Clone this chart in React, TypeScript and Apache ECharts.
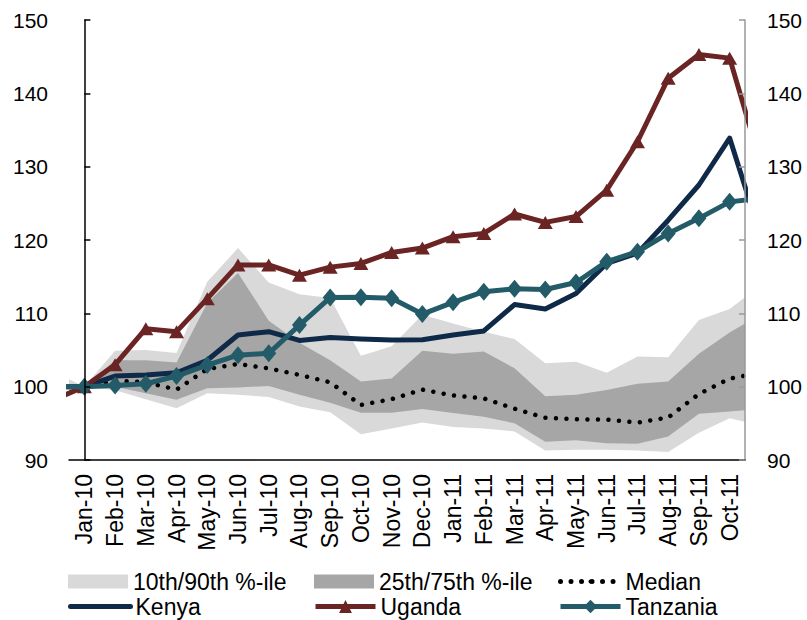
import React, { useEffect, useRef } from "react";
import * as echarts from "echarts";

// Visible month labels (category axis)
const monthLabels = [
  "Jan-10", "Feb-10", "Mar-10", "Apr-10", "May-10", "Jun-10", "Jul-10", "Aug-10",
  "Sep-10", "Oct-10", "Nov-10", "Dec-10", "Jan-11", "Feb-11", "Mar-11", "Apr-11",
  "May-11", "Jun-11", "Jul-11", "Aug-11", "Sep-11", "Oct-11",
];
// Data periods: one month before and after the visible range (clipped by the axis)
const periods = ["Dec-09", ...monthLabels, "Nov-11"];

const kenya = [100, 100, 101.45, 101.6, 101.9, 103.6, 107.05, 107.5, 106.3, 106.7, 106.5, 106.35, 106.4, 107.05, 107.6, 111.2, 110.6, 112.7, 116.8, 118.2, 122.7, 127.5, 133.9, 120.7];
const uganda = [98.2, 100, 103.0, 107.9, 107.5, 112.0, 116.6, 116.6, 115.2, 116.3, 116.8, 118.3, 118.9, 120.45, 120.9, 123.55, 122.4, 123.2, 126.8, 133.4, 142.05, 145.3, 144.8, 130.6];
const tanzania = [100, 100, 100.15, 100.4, 101.45, 102.95, 104.3, 104.55, 108.4, 112.15, 112.2, 112.05, 109.9, 111.5, 112.95, 113.35, 113.25, 114.2, 117.05, 118.4, 120.9, 122.95, 125.2, 125.7];
const median = [100, 100, 100.8, 100.6, 99.6, 102.4, 103.1, 102.5, 101.6, 100.6, 97.5, 98.3, 99.6, 98.8, 98.4, 97.0, 95.75, 95.55, 95.5, 95.1, 95.8, 99.0, 101.1, 101.9];
const p90 = [102, 100, 104.9, 105.0, 104.6, 114.3, 118.9, 114.2, 112.6, 112.1, 104.2, 105.5, 109.8, 108.6, 107.5, 106.5, 103.2, 103.4, 101.9, 104.1, 104.0, 109.1, 110.6, 113.8];
const p75 = [100.8, 100, 103.6, 103.6, 103.3, 111.4, 115.5, 109.0, 106.0, 103.6, 100.7, 101.1, 104.9, 104.5, 104.8, 102.5, 98.7, 98.9, 99.55, 100.4, 100.7, 104.5, 107.4, 109.8];
const p25 = [99.3, 100, 100.0, 99.1, 98.2, 99.8, 99.9, 100.1, 98.9, 97.8, 96.45, 96.45, 96.95, 96.4, 95.9, 95.0, 92.5, 92.7, 92.3, 92.2, 93.2, 96.3, 96.6, 97.0];
const p10 = [98.2, 100, 99.5, 98.3, 97.05, 99.1, 98.9, 98.6, 97.3, 96.5, 93.5, 94.3, 95.1, 94.5, 94.3, 93.9, 91.3, 91.4, 91.4, 91.3, 91.1, 93.7, 95.7, 94.7];

const yTicks = { min: 90, max: 150, interval: 10 };

const FONT = "'Liberation Sans', Arial, sans-serif";
const C_LIGHT = "#d9d9d9";
const C_DARK = "#a6a6a6";
const C_KENYA = "#0f2948";
const C_UGANDA = "#6b2424";
const C_TANZ = "#235b68";

const pos = (i: number) => i - 1; // index of period relative to Jan-10
const pairs = (arr: number[]) => arr.map((v, i) => [pos(i), v]);

function bandSeries(name: string, lo: number[], hi: number[], color: string) {
  return {
    name,
    type: "custom",
    xAxisIndex: 1,
    yAxisIndex: 0,
    clip: true,
    silent: true,
    color,
    itemStyle: { color },
    data: periods.map((_, i) => [pos(i), lo[i], hi[i]]),
    encode: { x: 0, y: [1, 2] },
    renderItem: (params: any, api: any) => {
      if (params.dataIndex !== 0) return null;
      const top = hi.map((v, i) => api.coord([pos(i), v]));
      const bottom = lo.map((v, i) => api.coord([pos(i), v])).reverse();
      return {
        type: "polygon",
        shape: { points: [...top, ...bottom] },
        style: { fill: color, stroke: null },
      };
    },
  };
}

export default function App() {
  const ref = useRef<HTMLDivElement>(null);
  useEffect(() => {
    if (!ref.current) return;
    const chart = echarts.init(ref.current, null, { renderer: "svg" });
    const legendBase = {
      orient: "horizontal",
      padding: 0,
      itemWidth: 60,
      itemHeight: 14,
      selectedMode: false,
      lineStyle: { width: 5 },
      textStyle: { fontSize: 23, color: "#000", fontFamily: FONT },
    };
    const option: any = {
      animation: false,
      textStyle: { fontFamily: FONT },
      grid: { left: 69, right: 62, top: 20, height: 440, containLabel: false },
      xAxis: [
        {
          type: "category",
          data: monthLabels,
          boundaryGap: true,
          z: 5,
          axisLine: { lineStyle: { color: "#000", width: 1.5 } },
          axisTick: { inside: true, length: 6, lineStyle: { color: "#000", width: 1.5 } },
          axisLabel: { rotate: 90, interval: 0, fontSize: 23, color: "#000", margin: 14, fontFamily: FONT },
          splitLine: { show: false },
        },
        { type: "value", min: -0.5, max: 21.5, show: false },
      ],
      yAxis: [
        {
          type: "value",
          position: "left",
          ...yTicks,
          z: 5,
          axisLine: { show: true, lineStyle: { color: "#000", width: 1.5 } },
          axisTick: { show: true, inside: true, length: 6, lineStyle: { color: "#000", width: 1.5 } },
          axisLabel: { fontSize: 21, color: "#000", margin: 21, fontFamily: FONT },
          splitLine: { show: false },
        },
        {
          type: "value",
          position: "right",
          ...yTicks,
          z: 5,
          axisLine: { show: true, lineStyle: { color: "#999", width: 1.5 } },
          axisTick: { show: true, inside: true, length: 6, lineStyle: { color: "#999", width: 1.5 } },
          axisLabel: { fontSize: 21, color: "#000", margin: 22, fontFamily: FONT },
          splitLine: { show: false },
        },
      ],
      legend: [
        { ...legendBase, left: 68, top: 570, data: [{ name: "10th/90th %-ile", icon: "rect" }] },
        { ...legendBase, left: 314, top: 570, data: [{ name: "25th/75th %-ile", icon: "rect" }] },
        { ...legendBase, left: 558, top: 570, itemHeight: 5, data: ["Median"] },
        { ...legendBase, left: 68, top: 595, itemHeight: 5, data: ["Kenya"] },
        { ...legendBase, left: 313, top: 595, itemHeight: 16, data: ["Uganda"] },
        { ...legendBase, left: 558, top: 595, itemHeight: 17, data: ["Tanzania"] },
      ],
      series: [
        bandSeries("10th/90th %-ile", p10, p90, C_LIGHT),
        bandSeries("25th/75th %-ile", p25, p75, C_DARK),
        {
          name: "Median", type: "line", xAxisIndex: 1, data: pairs(median), symbol: "none", color: "#000",
          lineStyle: { color: "#000", width: 4.5, type: [0.01, 10.5], cap: "round" },
        },
        {
          name: "Kenya", type: "line", xAxisIndex: 1, data: pairs(kenya), symbol: "none", color: C_KENYA,
          lineStyle: { color: C_KENYA, width: 5, join: "round", cap: "round" },
        },
        {
          name: "Uganda", type: "line", xAxisIndex: 1, data: pairs(uganda), symbol: "triangle", symbolSize: [15, 13],
          color: C_UGANDA, itemStyle: { color: C_UGANDA }, lineStyle: { color: C_UGANDA, width: 5, join: "round" },
        },
        {
          name: "Tanzania", type: "line", xAxisIndex: 1, data: pairs(tanzania), symbol: "diamond", symbolSize: [15, 18],
          color: C_TANZ, itemStyle: { color: C_TANZ }, lineStyle: { color: C_TANZ, width: 5, join: "round" },
        },
      ],
    };
    chart.setOption(option);
    return () => chart.dispose();
  }, []);
  return (
    <div
      ref={ref}
      style={{ position: "absolute", left: 0, top: 0, width: 807, height: 620, background: "#fff" }}
    />
  );
}
